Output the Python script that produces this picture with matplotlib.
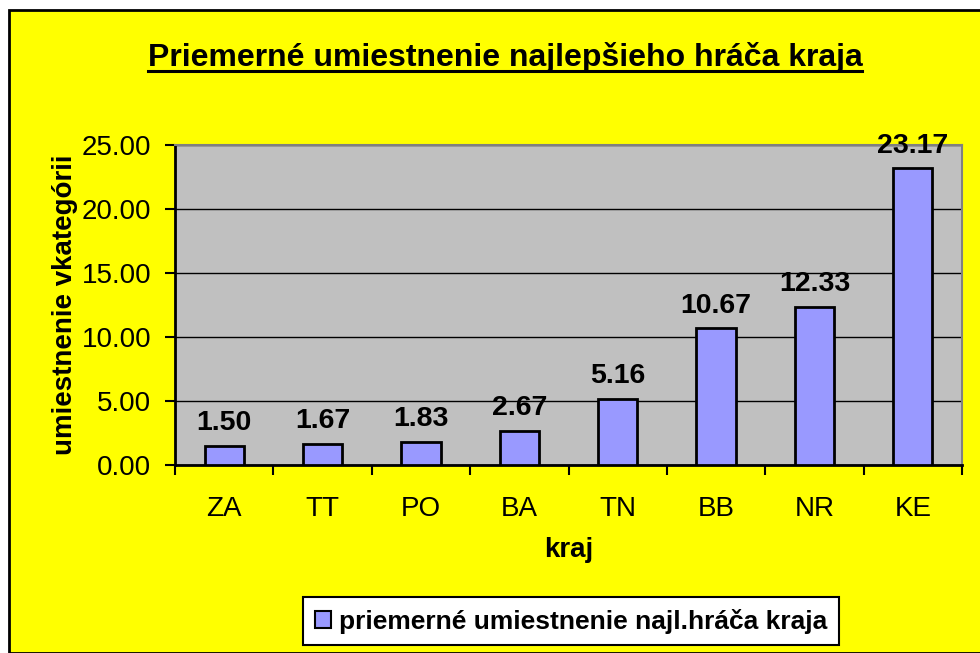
import matplotlib
matplotlib.use("Agg")
import matplotlib.pyplot as plt
from matplotlib.patches import Rectangle
from matplotlib.lines import Line2D

categories = ["ZA", "TT", "PO", "BA", "TN", "BB", "NR", "KE"]
values = [1.50, 1.67, 1.83, 2.67, 5.16, 10.67, 12.33, 23.17]
yticks = [0, 5, 10, 15, 20, 25]
title = "Priemerné umiestnenie najlepšieho hráča kraja"
ylabel = "umiestnenie vkategórii"
xlabel = "kraj"
legend_label = "priemerné umiestnenie najl.hráča kraja"

plt.rcParams['font.family'] = ['Liberation Sans', 'DejaVu Sans']

W, H = 980, 653
fig = plt.figure(figsize=(9.8, 6.53), dpi=100)
fig.patch.set_facecolor("white")

# yellow chart area with border at left/top
bg = Rectangle((9 / W, 0), 1 - 9 / W + 0.01, 1 - 10 / H, transform=fig.transFigure,
               facecolor="#FFFF00", edgecolor="black", linewidth=2, zorder=-5)
fig.patches.append(bg)

ax = fig.add_axes([175 / W, 1 - 465 / H, 787 / W, 320 / H])
ax.set_facecolor("#C0C0C0")
x = list(range(len(categories)))
bars = ax.bar(x, values, width=0.4, color="#9999FF", edgecolor="black", linewidth=2, zorder=3)
ax.set_xlim(-0.5, len(categories) - 0.5)
ax.set_ylim(0, 25)
ax.set_yticks(yticks)
ax.set_yticklabels([f"{v:.2f}" for v in yticks], fontsize=20)
ax.yaxis.grid(True, color="black", linewidth=1, zorder=1)
ax.set_axisbelow(True)

ax.set_xticks(x)
ax.set_xticklabels(categories, fontsize=20)
ax.tick_params(axis="x", length=0, pad=22)
ax.set_xticks([i - 0.5 for i in range(len(categories) + 1)], minor=True)
ax.tick_params(axis="x", which="minor", length=7, width=1.5, direction="out", color="black")
ax.tick_params(axis="y", length=7, width=1.5, direction="out", pad=10)

for s in ["top", "right"]:
    ax.spines[s].set_color("#808080")
    ax.spines[s].set_linewidth(1.5)
for s in ["left", "bottom"]:
    ax.spines[s].set_color("black")
    ax.spines[s].set_linewidth(2)

for xi, v in zip(x, values):
    ax.annotate(f"{v:.2f}", (xi, v), xytext=(0, 7), textcoords="offset points",
                ha="center", va="bottom", fontsize=20.5, fontweight="bold", zorder=5,
                annotation_clip=False)

ax.set_ylabel(ylabel, fontsize=20, fontweight="bold", labelpad=3)
ax.set_xlabel(xlabel, fontsize=20, fontweight="bold", labelpad=11)

# title with underline
t = fig.text(505 / W, 1 - 66 / H, title, ha="center", va="baseline",
             fontsize=23, fontweight="bold")
fig.canvas.draw()
bb = t.get_window_extent(renderer=fig.canvas.get_renderer())
fig.add_artist(Line2D([bb.x0 / W, bb.x1 / W], [1 - 71 / H, 1 - 71 / H],
                      transform=fig.transFigure, color="black", linewidth=2.2))

# legend
handle = Rectangle((0, 0), 1, 1, facecolor="#9999FF", edgecolor="black", linewidth=1.5)
leg = fig.legend([handle], [legend_label], loc="center",
                 bbox_to_anchor=(571 / W, 1 - 621 / H), frameon=True,
                 prop={"size": 19, "weight": "bold"}, handlelength=0.6, handleheight=0.6,
                 handletextpad=0.3, borderpad=0.45, fancybox=False, borderaxespad=0,
                 framealpha=1)
leg.get_frame().set_edgecolor("black")
leg.get_frame().set_linewidth(1.5)
leg.get_frame().set_facecolor("white")

fig.savefig("out.png", dpi=100, facecolor=fig.get_facecolor())
